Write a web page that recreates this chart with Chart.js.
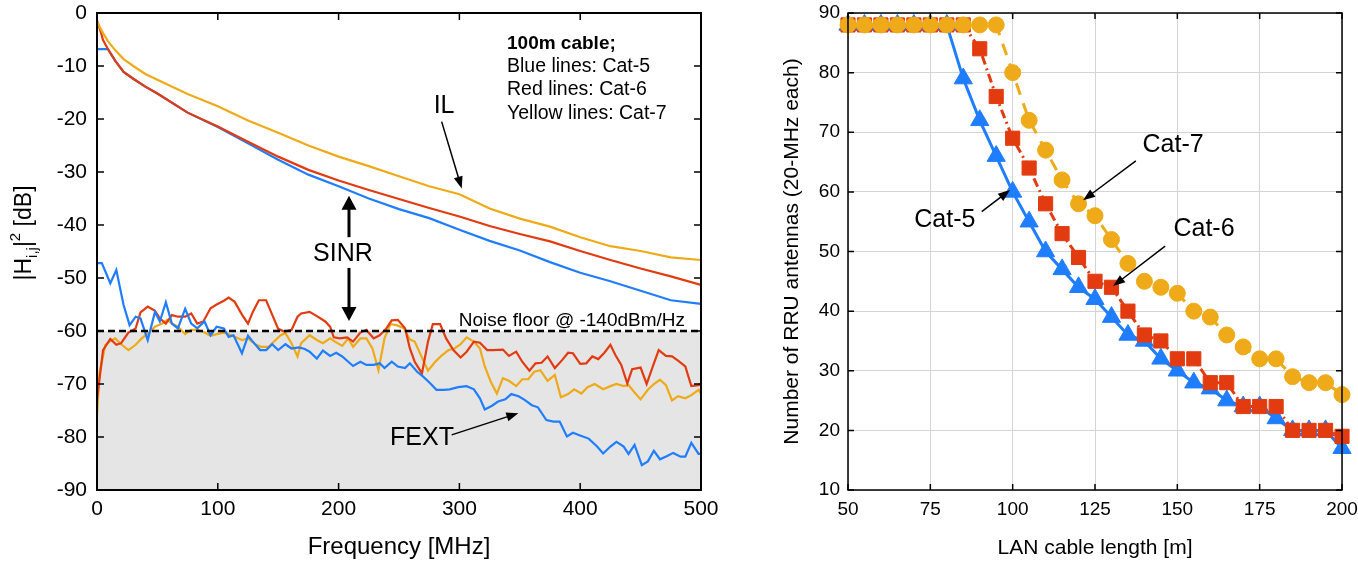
<!DOCTYPE html>
<html>
<head>
<meta charset="utf-8">
<script src="https://cdn.jsdelivr.net/npm/chart.js@4/dist/chart.umd.min.js"></script>
<style>
  body { margin: 0; background: #fff; }
  .wrap { position: absolute; top: 0; height: 563px; }
</style>
</head>
<body>
<div class="wrap" style="left:0;width:720px"><canvas id="il-fext-graph" width="720" height="563"></canvas></div>
<div class="wrap" style="left:720px;width:638px"><canvas id="rru-graph" width="638" height="563"></canvas></div>
<script>
// ---- left plot: insertion loss and FEXT, 100 m cable ----
var ilFreq = [0, 3, 5, 9, 15, 22, 30, 40, 50, 75, 100, 125, 150, 175, 200, 225, 250, 275, 300, 325, 350, 375, 400, 425, 450, 475, 500];
var ilCat5 = [-6.8, -6.8, -6.8, -6.8, -9.0, -11.1, -12.4, -13.9, -15.2, -18.8, -21.5, -24.6, -27.7, -30.5, -32.7, -35.0, -37.0, -38.7, -40.9, -43.0, -44.8, -47.0, -49.0, -50.6, -52.4, -54.2, -54.9];
var ilCat6 = [-1.5, -3.5, -5.1, -6.8, -9.0, -11.1, -12.4, -13.9, -15.2, -18.8, -21.4, -24.3, -27.1, -29.6, -31.6, -33.4, -35.1, -36.8, -38.4, -40.2, -41.7, -43.1, -44.9, -46.6, -48.2, -49.7, -51.3];
var ilCat7 = [-1.5, -3.0, -3.8, -5.3, -7.0, -8.7, -10.0, -11.5, -12.6, -15.3, -17.6, -20.3, -22.6, -25.0, -27.1, -28.9, -30.8, -32.7, -34.2, -36.9, -38.8, -40.3, -42.3, -44.0, -44.9, -46.1, -46.6];

// FEXT traces as [MHz, dB]
var fextCat5 = [[0,-47.2],[4,-47.2],[11,-51],[16,-48.5],[22,-55.1],[27,-58.9],[32,-57.3],[36,-57.6],[42,-61.7],[48,-56.4],[52,-58.2],[57,-54.6],[62,-58.6],[67,-59.5],[73,-55.8],[78,-58.6],[83,-59.5],[89,-58.2],[94,-60.8],[99,-59.2],[105,-59.5],[109,-61.1],[113,-60.8],[120,-64.2],[125,-60.9],[129,-62],[135,-63.6],[140,-63.6],[145,-62.5],[150,-63.6],[156,-62.5],[161,-63.3],[167,-63.1],[172,-63.4],[176,-63.9],[182,-65.2],[187,-63.7],[193,-64.7],[198,-64.1],[203,-64.8],[208,-65.8],[212,-66.6],[218,-65.8],[223,-66.4],[229,-66.4],[234,-66.1],[238,-67],[244,-65.8],[249,-66.7],[255,-67],[259,-66.1],[265,-67.7],[270,-68.6],[276,-69.9],[281,-71.1],[287,-71.1],[292,-71],[299,-70.6],[306,-70.4],[312,-71],[317,-72.7],[321,-74.8],[327,-74.1],[332,-73.3],[338,-72.9],[343,-71.9],[349,-72.3],[354,-73],[360,-74],[365,-74.4],[372,-76.8],[378,-77.1],[383,-77.1],[389,-79.9],[394,-79.2],[401,-79.8],[407,-80.3],[414,-81.8],[419,-83.1],[425,-81.8],[430,-80.9],[436,-81.8],[440,-83.2],[445,-81.5],[451,-85.3],[456,-84.6],[461,-82.6],[466,-84.2],[472,-83.6],[477,-83],[483,-83.7],[487,-83.7],[492,-81.1],[498,-83.2],[500,-83.2]];
var fextCat6 = [[0,-73],[5,-63.6],[11,-61.5],[16,-62.6],[20,-62.3],[26,-60.3],[32,-59.5],[36,-56.5],[42,-55.4],[48,-56.2],[52,-57.6],[57,-58.6],[62,-57],[67,-57.3],[73,-57.3],[78,-56.7],[83,-58.6],[88,-58.2],[94,-55.7],[99,-55],[105,-54.3],[109,-53.7],[114,-54.5],[120,-56.9],[125,-58.6],[129,-56.4],[134,-54.2],[140,-54.2],[145,-56.9],[150,-59.6],[155,-60.1],[161,-59.8],[166,-57.3],[169,-56.7],[176,-56.4],[182,-57.2],[189,-58.2],[193,-59.2],[196,-61.2],[201,-61.4],[207,-61.2],[212,-62],[218,-60.3],[223,-59.8],[229,-61.4],[234,-60.8],[239,-59.7],[244,-58],[249,-57.9],[255,-59.5],[259,-63.3],[263,-65.8],[269,-68],[274,-62],[278,-58.7],[284,-58.7],[289,-61.4],[295,-63.6],[301,-65],[306,-63.9],[312,-62],[317,-62.2],[323,-63.6],[328,-63.6],[336,-63.5],[341,-64.7],[347,-63.9],[352,-65.8],[358,-67.5],[363,-66.1],[368,-66],[373,-64.8],[379,-67],[385,-65.5],[390,-64.1],[394,-64.2],[400,-66.2],[405,-66.1],[410,-64.8],[415,-65.3],[420,-64.1],[425,-62.6],[429,-64.5],[434,-66.4],[439,-69.9],[443,-67.2],[450,-66.9],[455,-70],[461,-66.1],[465,-63.6],[471,-64.7],[476,-64.8],[481,-65.6],[487,-66.7],[492,-70.4],[498,-70.2],[500,-70]];
var fextCat7 = [[0,-76],[2,-68],[7,-62.6],[11,-61.9],[15,-61.4],[20,-62.5],[26,-63.6],[32,-62.6],[37,-61.4],[43,-60.3],[48,-59.2],[54,-58.6],[58,-57.9],[62,-58.6],[67,-59.2],[73,-60.6],[78,-59.8],[84,-59.8],[89,-60.3],[94,-60.9],[99,-60.6],[105,-60.3],[109,-60.6],[114,-61.1],[120,-61.7],[125,-61.4],[131,-62.5],[136,-63],[142,-63],[147,-61.9],[152,-60.8],[156,-60.4],[161,-62.3],[166,-64.8],[169,-62.3],[176,-60.8],[182,-61.7],[187,-62.3],[193,-61.4],[197,-62],[203,-62.8],[208,-61.4],[212,-63],[218,-61.4],[223,-61.4],[228,-63.3],[233,-67.4],[238,-61.4],[243,-58.7],[248,-58.9],[254,-59.5],[259,-61.6],[263,-62],[268,-64.5],[274,-67.5],[280,-65.8],[285,-64.7],[291,-63.6],[296,-63.3],[301,-62.5],[306,-61.2],[312,-62],[317,-63.3],[321,-66.7],[326,-69.6],[331,-71.8],[336,-68.9],[341,-69.4],[347,-70.4],[352,-69.1],[357,-69.1],[362,-67.7],[367,-67.4],[373,-69.4],[379,-68.3],[384,-72.5],[390,-71.9],[395,-71],[401,-71.8],[406,-70.6],[412,-70],[419,-71],[425,-70.4],[430,-70],[436,-70.4],[440,-70.2],[445,-71.6],[450,-72.9],[456,-71.1],[461,-70],[466,-69.2],[471,-70.2],[476,-73.1],[481,-72.3],[487,-72.7],[492,-72.1],[498,-71.1],[500,-71.9]];
var noiseFloor = -60;

// ---- right plot: supported RRU antennas vs cable length ----
var cableLength = [50, 55, 60, 65, 70, 75, 80, 85, 90, 95, 100, 105, 110, 115, 120, 125, 130, 135, 140, 145, 150, 155, 160, 165, 170, 175, 180, 185, 190, 195, 200];
var rruCat5 = [88, 88, 88, 88, 88, 88, 88, 79, 72, 66, 60, 55, 50, 47, 44, 42, 39, 36, 35, 32, 30, 28, 27, 25, 24, 24, 22, 20, 20, 20, 17];
var rruCat6 = [88, 88, 88, 88, 88, 88, 88, 88, 84, 76, 69, 64, 58, 53, 49, 45, 44, 40, 36, 35, 32, 32, 28, 28, 24, 24, 24, 20, 20, 20, 19];
var rruCat7 = [88, 88, 88, 88, 88, 88, 88, 88, 88, 88, 80, 72, 67, 62, 58, 56, 52, 48, 45, 44, 43, 40, 39, 36, 34, 32, 32, 29, 28, 28, 26];

var FONT = "'Liberation Sans', Arial, Helvetica, sans-serif";
var BLUE = '#1f7dff', RED = '#e33b10', YELLOW = '#eeaa18';

function pairs(arr) { return arr.map(function (p) { return {x: p[0], y: p[1]}; }); }
function zip(xs, ys) { return xs.map(function (x, i) { return {x: x, y: ys[i]}; }); }

function arrowHead(ctx, x1, y1, x2, y2, len, half) {
    var a = Math.atan2(y2 - y1, x2 - x1);
    ctx.beginPath();
    ctx.moveTo(x2, y2);
    ctx.lineTo(x2 - len * Math.cos(a) + half * Math.sin(a), y2 - len * Math.sin(a) - half * Math.cos(a));
    ctx.lineTo(x2 - len * Math.cos(a) - half * Math.sin(a), y2 - len * Math.sin(a) + half * Math.cos(a));
    ctx.closePath();
    ctx.fill();
}

// no automatic label overhang padding: the layout padding places the plot box
function noOverhangX(s) { s.height = 73; s.paddingLeft = 0; s.paddingRight = 0; }
function noOverhangY(w) {
    return function (s) { s.width = w; s.paddingTop = 0; s.paddingBottom = 0; };
}

// box with inward ticks on all four sides, then texts and arrows in data coords
var decorPlugin = {
    id: 'decor',
    afterDatasetsDraw: function (chart, args, opts) {
        var ctx = chart.ctx, a = chart.chartArea, sx = chart.scales.x, sy = chart.scales.y;
        ctx.save();
        ctx.strokeStyle = '#000';
        ctx.lineWidth = opts.tickWidth;
        ctx.beginPath();
        sx.ticks.forEach(function (t) {
            var px = sx.getPixelForValue(t.value);
            ctx.moveTo(px, a.bottom); ctx.lineTo(px, a.bottom - opts.tickLength);
            ctx.moveTo(px, a.top); ctx.lineTo(px, a.top + opts.tickLength);
        });
        sy.ticks.forEach(function (t) {
            var py = sy.getPixelForValue(t.value);
            ctx.moveTo(a.left, py); ctx.lineTo(a.left + opts.tickLength, py);
            ctx.moveTo(a.right, py); ctx.lineTo(a.right - opts.tickLength, py);
        });
        ctx.stroke();
        ctx.lineWidth = opts.frameWidth;
        ctx.strokeRect(a.left, a.top, a.right - a.left, a.bottom - a.top);

        ctx.fillStyle = '#000';
        (opts.arrows || []).forEach(function (ar) {
            var x1 = sx.getPixelForValue(ar.x1), y1 = sy.getPixelForValue(ar.y1);
            var x2 = sx.getPixelForValue(ar.x2), y2 = sy.getPixelForValue(ar.y2);
            var ang = Math.atan2(y2 - y1, x2 - x1);
            ctx.lineWidth = ar.width;
            ctx.beginPath();
            ctx.moveTo(x1, y1);
            ctx.lineTo(x2 - ar.head * 0.8 * Math.cos(ang), y2 - ar.head * 0.8 * Math.sin(ang));
            ctx.stroke();
            arrowHead(ctx, x1, y1, x2, y2, ar.head, ar.half);
        });
        ctx.textBaseline = 'middle';
        (opts.texts || []).forEach(function (tx) {
            ctx.font = (tx.bold ? 'bold ' : '') + tx.size + 'px ' + FONT;
            ctx.textAlign = tx.align || 'center';
            ctx.fillText(tx.text, sx.getPixelForValue(tx.x), sy.getPixelForValue(tx.y));
        });

        // y-axis title with sub/superscript
        if (opts.yTitle) {
            var yt = opts.yTitle;
            var parts = yt.parts;
            ctx.translate(yt.x, yt.y);
            ctx.rotate(-Math.PI / 2);
            ctx.textAlign = 'left';
            ctx.textBaseline = 'alphabetic';
            var total = 0;
            parts.forEach(function (p) { ctx.font = p.size + 'px ' + FONT; p.w = ctx.measureText(p.t).width; total += p.w; });
            var cx = -total / 2;
            parts.forEach(function (p) {
                ctx.font = p.size + 'px ' + FONT;
                ctx.fillText(p.t, cx, p.dy);
                cx += p.w;
            });
        }
        ctx.restore();
    }
};

document.addEventListener('DOMContentLoaded', function () {
    var ctx1 = document.getElementById('il-fext-graph').getContext('2d');
    var ctx2 = document.getElementById('rru-graph').getContext('2d');

    function lineSet(data, color) {
        return {
            data: data, borderColor: color, borderWidth: 2.2,
            pointRadius: 0, tension: 0, fill: false
        };
    }

    var ilChart = new Chart(ctx1, {
        type: 'line',
        data: {
            datasets: [
                lineSet(zip(ilFreq, ilCat7), YELLOW),
                lineSet(zip(ilFreq, ilCat6), RED),
                lineSet(zip(ilFreq, ilCat5), BLUE),
                lineSet(pairs(fextCat5), BLUE),
                lineSet(pairs(fextCat6), RED),
                lineSet(pairs(fextCat7), YELLOW),
                {   // shaded region under the noise floor
                    data: [{x: 0, y: noiseFloor}, {x: 500, y: noiseFloor}],
                    borderWidth: 0, pointRadius: 0, fill: 'start',
                    backgroundColor: '#e5e5e5', order: 10
                },
                {
                    data: [{x: 0, y: noiseFloor}, {x: 500, y: noiseFloor}],
                    borderColor: '#000', borderWidth: 2.5, borderDash: [7, 4],
                    pointRadius: 0, fill: false, order: -1
                }
            ]
        },
        options: {
            responsive: false,
            animation: false,
            layout: { padding: { left: 0, right: 19, top: 13, bottom: 0 } },
            plugins: {
                legend: { display: false },
                tooltip: { enabled: false },
                decor: {
                    tickLength: 7, tickWidth: 1.5, frameWidth: 2,
                    texts: [
                        { x: 287.3, y: -17.5, text: 'IL', size: 25 },
                        { x: 203.6, y: -45.5, text: 'SINR', size: 25 },
                        { x: 269, y: -80.2, text: 'FEXT', size: 25 },
                        { x: 486.8, y: -58.1, text: 'Noise floor @ -140dBm/Hz', size: 19, align: 'right' },
                        { x: 339.4, y: -5.8, text: '100m cable;', size: 19, bold: true, align: 'left' },
                        { x: 339.4, y: -10.2, text: 'Blue lines: Cat-5', size: 19.5, align: 'left' },
                        { x: 339.4, y: -14.5, text: 'Red lines: Cat-6', size: 19.5, align: 'left' },
                        { x: 339.4, y: -18.9, text: 'Yellow lines: Cat-7', size: 19.5, align: 'left' }
                    ],
                    arrows: [
                        { x1: 285.3, y1: -20.5, x2: 301.9, y2: -33.1, width: 1.5, head: 12, half: 4.5 },
                        { x1: 208.6, y1: -42.3, x2: 208.6, y2: -34.5, width: 3, head: 14, half: 7.5 },
                        { x1: 208.6, y1: -48.1, x2: 208.6, y2: -58.1, width: 3, head: 14, half: 7.5 },
                        { x1: 293.6, y1: -79.6, x2: 348.8, y2: -75.5, width: 1.5, head: 12, half: 4.5 }
                    ],
                    yTitle: {
                        x: 31, y: 233,
                        parts: [
                            { t: '|H', size: 23, dy: 0 },
                            { t: 'i,j', size: 15, dy: 6 },
                            { t: '|', size: 23, dy: 0 },
                            { t: '2', size: 15, dy: -11 },
                            { t: ' [dB]', size: 23, dy: 0 }
                        ]
                    }
                }
            },
            scales: {
                x: {
                    type: 'linear', min: 0, max: 500,
                    ticks: { stepSize: 100, color: '#000', font: { family: FONT, size: 21 }, padding: 7, maxRotation: 0 },
                    grid: { display: false, drawTicks: false },
                    border: { display: false },
                    title: { display: true, text: 'Frequency [MHz]', color: '#000', font: { family: FONT, size: 24 }, padding: { top: 0, bottom: 1 } },
                    afterFit: noOverhangX
                },
                y: {
                    min: -90, max: 0,
                    ticks: { stepSize: 10, color: '#000', font: { family: FONT, size: 21 }, padding: 10 },
                    grid: { display: false, drawTicks: false },
                    border: { display: false },
                    afterFit: noOverhangY(97)
                }
            }
        },
        plugins: [decorPlugin]
    });

    function rruSet(data, color, style, radius, dash, order) {
        return {
            data: data, borderColor: color, backgroundColor: color,
            borderWidth: 3, borderDash: dash, tension: 0, fill: false,
            pointStyle: style, pointRadius: radius, pointBorderWidth: 1,
            pointBackgroundColor: color, pointBorderColor: color,
            clip: false, order: order
        };
    }

    var rruChart = new Chart(ctx2, {
        type: 'line',
        data: {
            datasets: [
                rruSet(zip(cableLength, rruCat5), BLUE, 'triangle', 10.5, [], 3),
                rruSet(zip(cableLength, rruCat6), RED, 'rect', 10, [9, 4, 2, 4], 2),
                rruSet(zip(cableLength, rruCat7), YELLOW, 'circle', 8, [12, 9], 1)
            ]
        },
        options: {
            responsive: false,
            animation: false,
            layout: { padding: { left: 0, right: 16, top: 13, bottom: 0 } },
            plugins: {
                legend: { display: false },
                tooltip: { enabled: false },
                decor: {
                    tickLength: 6, tickWidth: 1.5, frameWidth: 1.5,
                    texts: [
                        { x: 148.7, y: 67.9, text: 'Cat-7', size: 25 },
                        { x: 79.4, y: 55.3, text: 'Cat-5', size: 25 },
                        { x: 158.1, y: 53.8, text: 'Cat-6', size: 25 }
                    ],
                    arrows: [
                        { x1: 137.4, y1: 65.2, x2: 121.4, y2: 58.6, width: 1.5, head: 12, half: 4.5 },
                        { x1: 90.6, y1: 56.7, x2: 99.2, y2: 60.3, width: 1.5, head: 12, half: 4.5 },
                        { x1: 146.3, y1: 50.9, x2: 130.5, y2: 44.2, width: 1.5, head: 12, half: 4.5 }
                    ]
                }
            },
            scales: {
                x: {
                    type: 'linear', min: 50, max: 200,
                    ticks: { stepSize: 25, color: '#000', font: { family: FONT, size: 19 }, padding: 8, maxRotation: 0 },
                    grid: { color: '#d4d4d4', lineWidth: 1, drawTicks: false },
                    border: { display: false },
                    title: { display: true, text: 'LAN cable length [m]', color: '#000', font: { family: FONT, size: 21 }, padding: { top: 0, bottom: 2 } },
                    afterFit: noOverhangX
                },
                y: {
                    min: 10, max: 90,
                    ticks: { stepSize: 10, color: '#000', font: { family: FONT, size: 19 }, padding: 8 },
                    grid: { color: '#d4d4d4', lineWidth: 1, drawTicks: false },
                    border: { display: false },
                    title: { display: true, text: 'Number of RRU antennas (20-MHz each)', color: '#000', font: { family: FONT, size: 21 }, padding: { top: 60, bottom: 0 } },
                    afterFit: noOverhangY(128)
                }
            }
        },
        plugins: [decorPlugin]
    });
});
</script>
</body>
</html>
